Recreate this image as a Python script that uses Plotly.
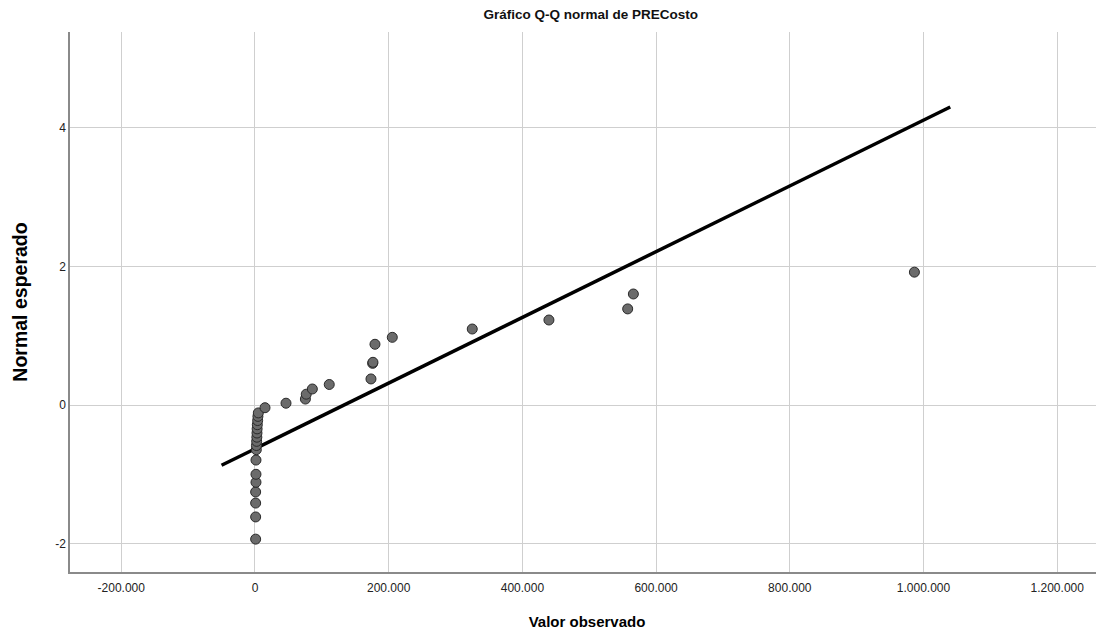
import plotly.graph_objects as go

# Observed values (x) and expected normal values (y)
obs = [1000, 1000, 1000, 1000, 1500, 1500, 1500,
       2000, 2200, 2500, 2800, 3000, 3200, 3500, 4000, 4400, 5000,
       15000, 46400, 75400, 76700, 85800, 111100, 173500, 176000, 176500,
       179500, 205400, 325000, 439700, 557500, 566000, 986400]
expected = [-1.93, -1.61, -1.41, -1.25, -1.11, -0.995, -0.79,
            -0.64, -0.58, -0.52, -0.46, -0.40, -0.34, -0.28, -0.22, -0.16, -0.11,
            -0.035, 0.03, 0.09, 0.16, 0.235, 0.30, 0.38, 0.605, 0.62,
            0.88, 0.98, 1.10, 1.23, 1.39, 1.605, 1.92]

# Reference line parameters
line_mean = 132500
line_sd = 211000
line_x = [-50000, 1040000]
line_y = [(v - line_mean) / line_sd for v in line_x]

x_ticks = [-200000, 0, 200000, 400000, 600000, 800000, 1000000, 1200000]
x_tick_text = ["-200.000", "0", "200.000", "400.000", "600.000", "800.000", "1.000.000", "1.200.000"]
y_ticks = [-2, 0, 2, 4]
y_tick_text = ["-2", "0", "2", "4"]

fig = go.Figure()
fig.add_trace(go.Scatter(
    x=line_x, y=line_y, mode="lines",
    line=dict(color="black", width=3.5), hoverinfo="skip", showlegend=False))
fig.add_trace(go.Scatter(
    x=obs, y=expected, mode="markers",
    marker=dict(size=10, color="#6b6b6b", line=dict(color="#2a2a2a", width=1)),
    showlegend=False))

font_family = "Liberation Sans, Arial, sans-serif"
fig.update_layout(
    width=1096, height=631,
    margin=dict(l=62, r=0, t=24, b=67, autoexpand=False),
    paper_bgcolor="white", plot_bgcolor="white",
    font=dict(family=font_family, color="black"),
    title=dict(text="<b>Gráfico Q-Q normal de PRECosto</b>", x=0.5317, xanchor="center",
               y=0.99, yanchor="middle", font=dict(size=13.5, color="#111")),
    xaxis=dict(range=[-276700, 1270000], tickvals=x_ticks, ticktext=x_tick_text,
               showgrid=True, gridcolor="#cfcfcf", gridwidth=1, zeroline=False,
               showline=True, linecolor="#8a8a8a", linewidth=1.5, automargin=False,
               ticks="", tickfont=dict(size=12, color="#222"), ticklabelstandoff=4,
               title=dict(text="<b>Valor observado</b>", font=dict(size=15), standoff=22)),
    yaxis=dict(range=[-2.404, 5.383], tickvals=y_ticks, ticktext=y_tick_text,
               showgrid=True, gridcolor="#cfcfcf", gridwidth=1, zeroline=False,
               showline=True, linecolor="#8a8a8a", linewidth=1.5, automargin=False,
               ticks="", tickfont=dict(size=12, color="#222"),
               title=dict(text="<b>Normal esperado</b>", font=dict(size=19.5), standoff=22)),
)
fig.write_html("out.html")
